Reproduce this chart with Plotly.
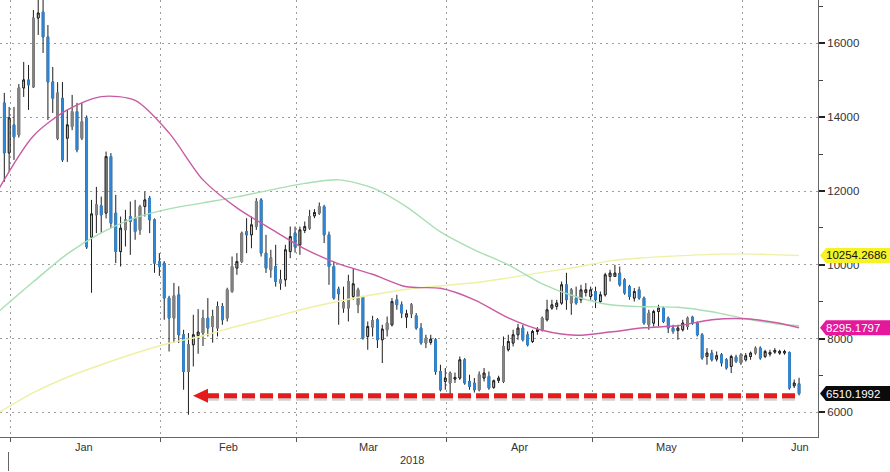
import pandas as pd
import plotly.graph_objects as go

# ---------------- data ----------------
dates = pd.date_range("2017-12-30", "2018-06-12", freq="D")

open_jan = [14388, 13034, 13793, 13522, 14795, 15011, 14822, 16690, 16850, 16176, 14957, 13432, 14516, 13432, 13747, 14153, 13432, 13974, 10750, 11355, 11600, 11401, 12935, 11401, 10361, 10948, 11309, 11260, 10948, 11580, 11807, 11219, 10090]
high_jan = [14660, 14280, 14280, 14900, 15499, 15418, 16907, 17300, 17300, 16500, 15363, 14950, 14957, 14199, 14605, 14388, 14388, 14050, 11761, 12113, 11850, 13070, 13030, 11896, 11309, 11490, 11715, 11761, 11626, 11986, 11870, 11260, 10317]
low_jan = [12250, 12519, 12844, 13450, 14551, 14199, 14795, 16230, 15742, 13928, 14117, 13380, 12790, 12790, 13650, 13050, 13380, 10430, 9242, 10859, 10860, 11260, 10994, 10046, 9954, 10496, 10270, 10680, 10813, 11309, 10859, 9784, 9700]
close_jan = [13034, 13982, 13468, 14795, 15011, 14876, 16690, 16826, 16176, 14957, 14516, 14660, 12844, 13793, 14153, 13115, 13882, 10484, 11380, 11626, 11355, 12935, 11130, 10361, 10994, 11219, 11173, 10902, 11580, 11761, 11219, 10046, 9954]

open_feb = [10046, 9099, 8557, 9188, 8105, 7110, 7834, 8086, 8151, 8557, 8329, 8286, 8871, 8557, 9277, 9911, 10090, 10900, 10813, 11038, 11761, 10317, 9865, 9954, 9505, 9594, 10361, 10865]
high_feb = [10100, 9160, 9510, 9420, 8240, 8151, 8646, 8800, 8782, 9099, 8782, 9006, 8963, 9380, 10225, 10317, 10902, 11265, 11309, 11807, 11807, 10813, 10407, 10542, 9865, 10542, 11038, 11038]
low_feb = [8511, 7652, 7890, 7880, 6615, 5937, 7246, 7590, 7800, 8058, 7890, 8058, 8375, 8465, 9240, 9730, 10046, 10317, 10450, 10948, 10225, 9780, 9650, 9410, 9323, 9410, 10180, 10330]
close_feb = [9099, 8557, 9161, 8105, 7110, 7834, 8105, 8178, 8557, 8286, 8600, 8871, 8511, 9323, 9954, 10090, 10859, 10810, 11084, 11715, 10317, 9911, 10190, 9548, 9594, 10407, 10767, 10485]

open_mar = [10542, 10930, 10994, 11328, 11401, 11580, 10813, 9954, 9342, 8828, 8828, 9142, 8917, 9142, 8058, 8313, 8511, 7969, 8240, 8375, 9053, 8917, 8584, 8673, 8619, 8286, 7880, 7896, 7969, 7110, 6840]
high_mar = [11038, 11173, 11490, 11510, 11690, 11626, 10902, 10090, 9410, 9410, 9730, 9911, 9380, 9160, 8465, 8619, 8557, 8375, 8600, 9099, 9188, 9006, 8782, 8963, 8692, 8421, 8105, 8105, 8015, 7292, 7203]
low_mar = [10270, 10859, 10948, 11265, 11355, 10590, 9459, 9053, 8375, 8700, 8465, 9053, 8690, 7969, 7698, 8058, 7744, 7338, 8058, 8329, 8782, 8557, 8286, 8557, 8240, 7834, 7744, 7834, 7021, 6570, 6615]
close_mar = [10948, 11038, 11309, 11417, 11580, 10813, 9954, 9099, 9215, 8980, 9548, 9486, 9323, 8015, 8329, 8492, 7969, 8259, 8421, 9006, 8917, 8692, 8673, 8917, 8286, 7880, 8015, 7988, 7110, 6615, 6932]

open_apr = [6796, 6905, 6932, 7427, 6840, 6796, 6615, 6932, 6975, 6677, 6870, 6840, 7698, 7880, 8105, 8286, 8105, 7923, 8194, 8240, 8511, 8828, 8871, 8963, 9459, 8963, 9099, 9053, 9250, 9142]
high_apr = [7110, 7080, 7517, 7473, 7021, 6932, 7110, 7203, 7110, 6890, 6995, 8058, 8105, 8240, 8400, 8375, 8194, 8240, 8313, 8600, 9053, 9053, 9053, 9548, 9784, 9370, 9410, 9459, 9505, 9410]
low_apr = [6479, 6800, 6880, 6750, 6615, 6540, 6570, 6840, 6615, 6640, 6796, 6796, 7652, 7790, 7969, 7923, 7790, 7880, 8105, 8194, 8465, 8782, 8782, 8917, 8782, 8646, 8917, 8963, 9142, 9053]
close_apr = [7067, 6948, 7427, 6796, 6704, 6615, 7021, 7067, 6661, 6859, 6932, 7788, 7923, 8105, 8286, 7969, 7834, 8194, 8240, 8557, 8782, 8917, 8963, 9459, 9053, 9323, 8963, 9323, 9323, 9323]

open_may = [9277, 9006, 9188, 9684, 9684, 9775, 9594, 9410, 9099, 9323, 9099, 8375, 8421, 8736, 8828, 8557, 8286, 8220, 8240, 8329, 8584, 8421, 8105, 7517, 7609, 7446, 7563, 7427, 7246, 7501, 7338]
high_may = [9410, 9277, 9784, 9865, 10000, 9954, 9640, 9459, 9370, 9410, 9142, 8782, 8782, 8917, 8871, 8600, 8375, 8375, 8511, 8600, 8619, 8465, 8151, 7744, 7698, 7652, 7609, 7473, 7563, 7563, 7609]
low_may = [8828, 8963, 9142, 9548, 9684, 9410, 9188, 9053, 9006, 9053, 8375, 8240, 8329, 8329, 8421, 8151, 8130, 7969, 8194, 8240, 8375, 8058, 7427, 7292, 7381, 7381, 7246, 7160, 7067, 7338, 7292]
close_may = [9053, 9188, 9730, 9775, 9775, 9459, 9235, 9142, 9277, 9099, 8421, 8692, 8736, 8828, 8465, 8286, 8194, 8286, 8421, 8557, 8421, 8105, 7473, 7609, 7427, 7536, 7338, 7203, 7517, 7381, 7563]

open_jun = [7427, 7517, 7609, 7744, 7517, 7580, 7636, 7609, 7612, 7625, 6723, 6777]
high_jun = [7609, 7652, 7790, 7790, 7698, 7698, 7744, 7698, 7698, 7652, 6890, 6940]
low_jun = [7381, 7427, 7563, 7427, 7473, 7517, 7590, 7563, 7563, 6615, 6661, 6460]
close_jun = [7536, 7609, 7744, 7473, 7652, 7625, 7680, 7652, 7650, 6661, 6796, 6510.1992]

# candle body style as drawn: b = blue filled, g = grey filled, w = hollow
style_codes = ("bwbgwbgwbbbgbwgbgbwgbwbbwgbbgwbbb"
               "bbgbbgwwgbggbggwgbwgbbgbgwwb"
               "wwgwgbbbbggwgbwgbwgwbbwgbbgwbbw"
               "gwwbbbgwbwwgwwwbbwwgwwwwbgbwww"
               "bwwwwbbbwbbgwwbbbwwgbbbwbwbbwbg"
               "wwgbwwwwwbwb")

opens = open_jan + open_feb + open_mar + open_apr + open_may + open_jun
highs = high_jan + high_feb + high_mar + high_apr + high_may + high_jun
lows = low_jan + low_feb + low_mar + low_apr + low_may + low_jun
closes = close_jan + close_feb + close_mar + close_apr + close_may + close_jun
styles = list(style_codes)

# moving averages, sampled weekly from the picture
ma_dates = ["2017-12-29", "2018-01-05", "2018-01-12", "2018-01-19", "2018-01-26", "2018-02-02",
            "2018-02-09", "2018-02-16", "2018-02-23", "2018-03-02", "2018-03-09", "2018-03-16",
            "2018-03-23", "2018-03-30", "2018-04-06", "2018-04-13", "2018-04-20", "2018-04-27",
            "2018-05-04", "2018-05-11", "2018-05-18", "2018-05-25", "2018-06-01", "2018-06-08",
            "2018-06-12"]
ma_pink = [12086, 13494, 14199, 14559, 14456, 13576, 12303, 11544, 10976, 10434, 10028, 9745,
           9405, 9364, 9053, 8565, 8227, 8091, 8178, 8294, 8348, 8511, 8538, 8416, 8295.1797]
ma_green = [8755, 9540, 10298, 10867, 11274, 11518, 11680, 11843, 12032, 12208, 12303, 12086,
            11572, 10895, 10407, 10000, 9486, 9134, 8917, 8863, 8849, 8727, 8538, 8389, 8348]
ma_yellow = [6005, 6534, 6953, 7292, 7603, 7874, 8077, 8335, 8565, 8809, 9012, 9188,
             9337, 9432, 9513, 9648, 9797, 9933, 10109, 10190, 10244, 10285, 10298, 10271, 10254.2686]

month_labels = ["Jan", "Feb", "Mar", "Apr", "May", "Jun"]
year_label = "2018"
y_ticks = [6000, 8000, 10000, 12000, 14000, 16000]

# ---------------- styling ----------------
BLUE = "#2f88d8"
GREY = "#858585"
WICK = "#1e1e1e"
PINK = "#c95aa3"
GREEN = "#a8dfb2"
YELLOW = "#eef1a4"
RED = "#e31b1b"
GRID = "#9c9c9c"
FONT = "Liberation Sans, Arial, sans-serif"

PLOT_W = 818.0
PLOT_H = 437.0

fig = go.Figure()

# wicks (full OHLC)
fig.add_trace(go.Candlestick(
    x=dates, open=opens, high=highs, low=lows, close=closes,
    increasing=dict(line=dict(color=WICK, width=1), fillcolor=WICK),
    decreasing=dict(line=dict(color=WICK, width=1), fillcolor=WICK),
    whiskerwidth=0, hoverinfo="skip", showlegend=False))

# bodies by drawn style
body_style = {"b": (BLUE, BLUE), "g": (GREY, GREY), "w": ("#ffffff", WICK)}
for code, (fill, edge) in body_style.items():
    o = [opens[i] if styles[i] == code else None for i in range(len(dates))]
    c = [closes[i] if styles[i] == code else None for i in range(len(dates))]
    hi = [max(a, b) if a is not None else None for a, b in zip(o, c)]
    lo = [min(a, b) if a is not None else None for a, b in zip(o, c)]
    fig.add_trace(go.Candlestick(
        x=dates, open=o, high=hi, low=lo, close=c,
        increasing=dict(line=dict(color=edge, width=1), fillcolor=fill),
        decreasing=dict(line=dict(color=edge, width=1), fillcolor=fill),
        whiskerwidth=0, hoverinfo="skip", showlegend=False))

for vals, col in [(ma_yellow, YELLOW), (ma_green, GREEN), (ma_pink, PINK)]:
    fig.add_trace(go.Scatter(x=ma_dates, y=vals, mode="lines",
                             line=dict(color=col, width=1.4, shape="spline", smoothing=0.8),
                             hoverinfo="skip", showlegend=False))

# month gridlines sit a little before each month's first candle
month_starts = pd.date_range("2018-01-01", "2018-06-01", freq="MS")
grid_x = [d - pd.Timedelta(hours=17) for d in month_starts]

shapes = []
annotations = []

# red dashed support line with arrow
ARROW_LEVEL = 6450
ARROW_TIP = "2018-02-06 22:30"
ARROW_START = "2018-02-09 15:00"
ARROW_END = "2018-06-12 05:00"
shapes.append(dict(type="line", xref="x", yref="y", x0=ARROW_START, x1=ARROW_END,
                   y0=ARROW_LEVEL - 65, y1=ARROW_LEVEL - 65, layer="above",
                   line=dict(color="rgba(90,90,90,0.28)", width=5, dash="13px,5px")))
shapes.append(dict(type="line", xref="x", yref="y", x0=ARROW_START, x1=ARROW_END,
                   y0=ARROW_LEVEL, y1=ARROW_LEVEL, layer="above",
                   line=dict(color=RED, width=5, dash="13px,5px")))
shapes.append(dict(type="path", xref="x", yref="y", xsizemode="pixel", ysizemode="pixel",
                   xanchor=ARROW_TIP, yanchor=ARROW_LEVEL, layer="above",
                   path="M0,0 L15,7 L15,-7 Z", fillcolor=RED, line=dict(width=0)))

# value tags on the right axis
tags = [(ma_yellow[-1], "#f5f227", "#111111"),
        (ma_pink[-1], "#e5189c", "#ffffff"),
        (closes[-1], "#0b0b0b", "#ffffff")]
for val, bg, fg in tags:
    shapes.append(dict(type="path", xref="paper", yref="y", xsizemode="pixel", ysizemode="pixel",
                       xanchor=1, yanchor=val, layer="above",
                       path="M2,0 L8,7.5 L80,7.5 L80,-7.5 L8,-7.5 Z",
                       fillcolor=bg, line=dict(width=0)))
    annotations.append(dict(xref="paper", yref="y", x=824 / PLOT_W, y=val, xanchor="left",
                            yanchor="middle", text=f"{val:.4f}", showarrow=False,
                            font=dict(family=FONT, size=11.5, color=fg)))

# year separator tick under the axis
shapes.append(dict(type="line", xref="paper", yref="paper",
                   x0=8.5 / PLOT_W, x1=8.5 / PLOT_W, y0=(PLOT_H - 452) / PLOT_H, y1=(PLOT_H - 471) / PLOT_H,
                   line=dict(color="#666666", width=1)))

label_px = [84, 228, 368, 519, 666, 800]
for lab, px in zip(month_labels, label_px):
    annotations.append(dict(xref="paper", yref="paper", x=px / PLOT_W, y=(PLOT_H - 447) / PLOT_H,
                            xanchor="center", yanchor="middle", text=lab, showarrow=False,
                            font=dict(family=FONT, size=11, color="#333333")))
annotations.append(dict(xref="paper", yref="paper", x=412 / PLOT_W, y=(PLOT_H - 460) / PLOT_H,
                        xanchor="center", yanchor="middle", text=year_label, showarrow=False,
                        font=dict(family=FONT, size=11, color="#333333")))

fig.update_layout(
    width=890, height=472,
    margin=dict(l=0, r=72, t=0, b=35),
    paper_bgcolor="white", plot_bgcolor="white",
    showlegend=False, boxgap=0.5,
    font=dict(family=FONT, size=11.5, color="#333333"),
    xaxis=dict(type="date", range=["2017-12-29 02:42", "2018-06-15 21:50"],
               tickmode="array", tickvals=grid_x, showticklabels=False,
               showgrid=True, gridcolor=GRID, griddash="2px,4px", gridwidth=1,
               ticks="outside", ticklen=4, tickcolor="#555555",
               showline=True, linecolor="#666666", linewidth=1,
               zeroline=False, rangeslider=dict(visible=False), fixedrange=True),
    yaxis=dict(side="right", range=[5334, 17178], tickmode="array", tickvals=y_ticks,
               ticktext=[str(v) for v in y_ticks],
               showgrid=True, gridcolor=GRID, griddash="2px,4px", gridwidth=1,
               ticks="outside", ticklen=6, tickwidth=2, tickcolor="#222222",
               minor=dict(dtick=1000, tick0=0, ticks="outside", ticklen=4, tickwidth=1,
                          tickcolor="#444444", showgrid=False),
               showline=True, linecolor="#666666", linewidth=1, zeroline=False,
               tickfont=dict(family=FONT, size=11.5, color="#333333"), fixedrange=True),
    shapes=shapes, annotations=annotations,
)

fig.write_html("out.html", config={"displayModeBar": False},
               post_script="document.body.style.margin='0px';document.body.style.overflow='hidden';")
